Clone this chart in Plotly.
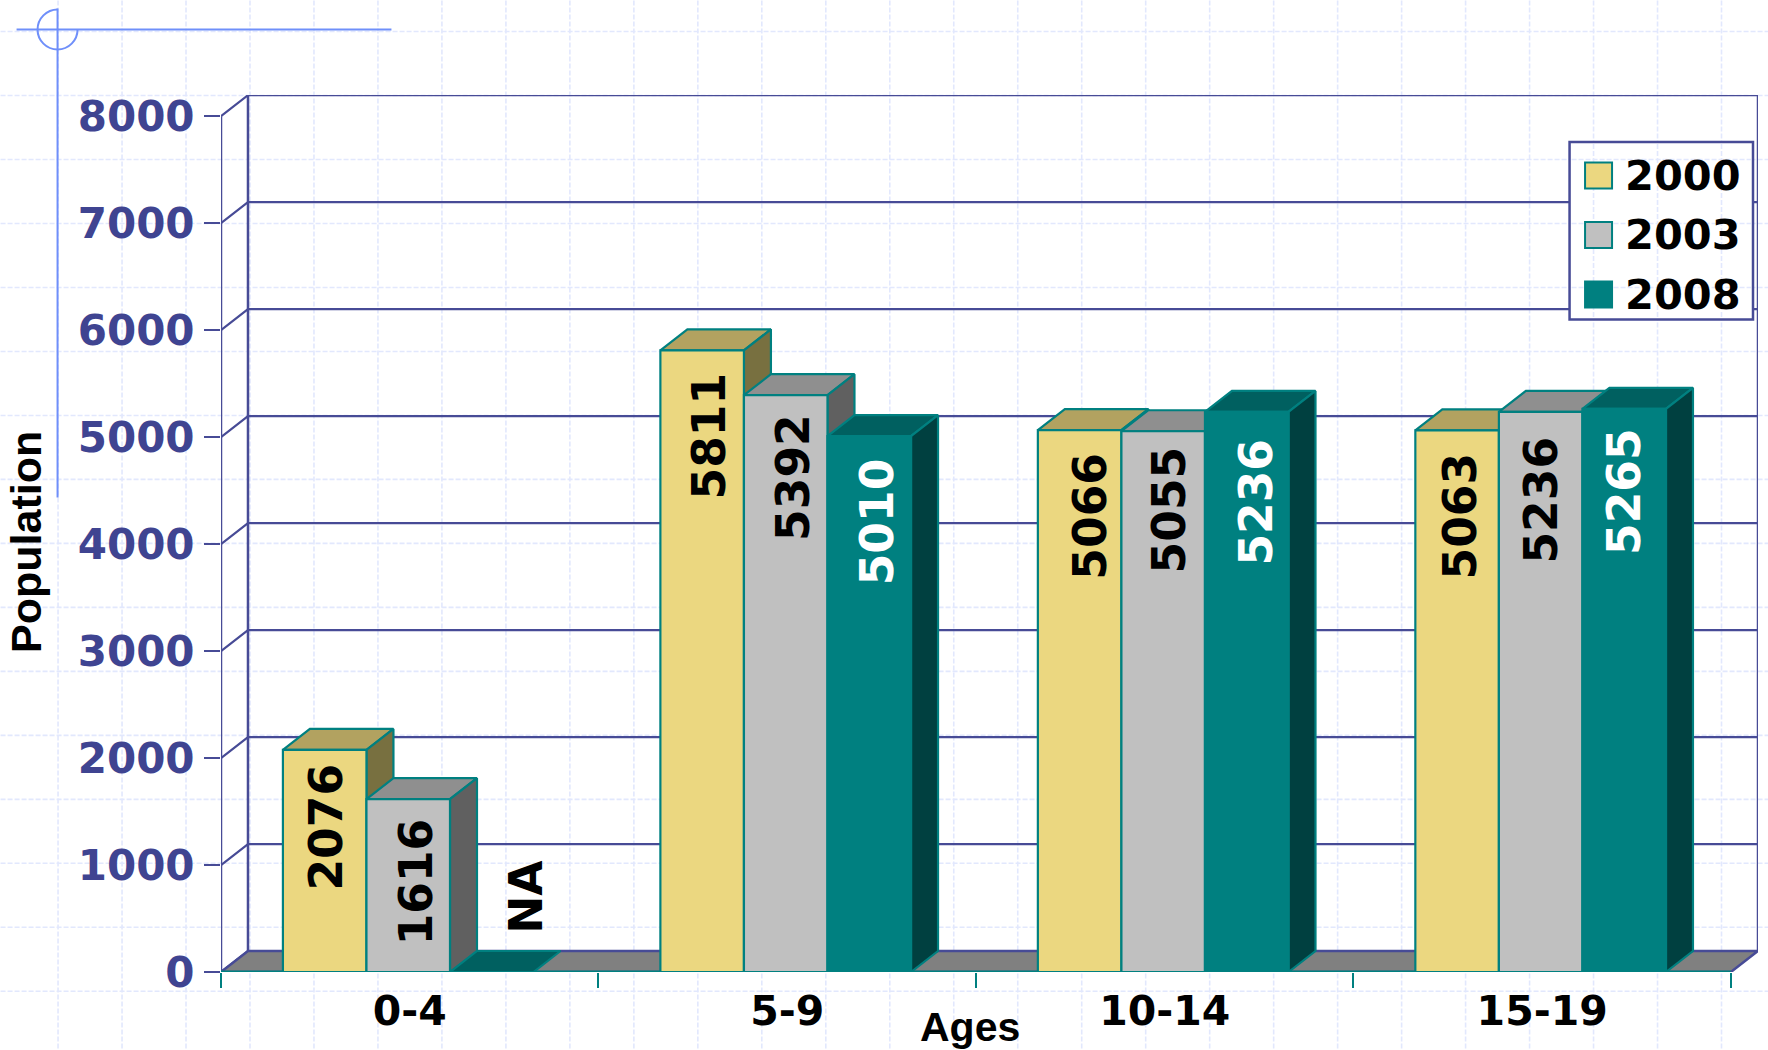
import plotly.graph_objects as go

categories = ["0-4", "5-9", "10-14", "15-19"]
series_names = ["2000", "2003", "2008"]
values_2000 = [2076, 5811, 5066, 5063]
values_2003 = [1616, 5392, 5055, 5236]
values_2008 = [None, 5010, 5236, 5265]
y_ticks = [0, 1000, 2000, 3000, 4000, 5000, 6000, 7000, 8000]
series_values = [values_2000, values_2003, values_2008]

W, H = 1768, 1050
L, R, T, B = 220.5, 1758.0, 94.5, 971.7
UNIT_X = 377.6
UNIT_Y = 0.107
DX = 27 / UNIT_X
DY = 21 / UNIT_Y
X_MAX = (R - L) / UNIT_X
Y_MAX = (B - T) / UNIT_Y
BARGAP = 0.336
BAR_W = (1 - BARGAP) / 3
GROUP_CENTER = 0.496

NAVY = "#474b96"
TEAL = "#008080"
FRONT = ["#ebd780", "#c0c0c0", "#008080"]
TOP = ["#b2a260", "#8f8f8f", "#006060"]
SIDE = ["#787040", "#606060", "#004040"]
FLOOR = "#808080"
PALE = "#e2e8fd"
BLUE = "#6f8ffa"
SANS = "DejaVu Sans"


def px(x):
    return (x - L) / (R - L)


def py(y):
    return (B - y) / (B - T)


fig = go.Figure()


def poly(xs, ys, fill):
    fig.add_trace(go.Scatter(x=xs, y=ys, mode="lines", fill="toself", fillcolor=fill,
                             line=dict(color=TEAL, width=2.2), hoverinfo="skip", showlegend=False))


def line(xs, ys, color=NAVY, width=2.5):
    fig.add_trace(go.Scatter(x=xs, y=ys, mode="lines", line=dict(color=color, width=width),
                             hoverinfo="skip", showlegend=False))


# walls and gridlines
for v in y_ticks:
    line([0, DX, X_MAX], [v, v + DY, v + DY], width=2.2)
line([0, 0], [0, 8000])
line([DX, DX], [DY, 8000 + DY])
line([X_MAX, X_MAX], [DY, 8000 + DY])
fig.add_trace(go.Scatter(x=[0, 4, 4 + DX, DX, 0], y=[0, 0, DY, DY, 0], mode="lines", fill="toself",
                         fillcolor=FLOOR, line=dict(color=NAVY, width=2.5), hoverinfo="skip", showlegend=False))
line([0, 4], [0, 0], color=TEAL, width=3)

# depth faces of each bar
for c in range(len(categories)):
    for s in range(len(series_names)):
        v = series_values[s][c] or 0
        x0 = c + GROUP_CENTER - 1.5 * BAR_W + s * BAR_W
        x1 = x0 + BAR_W
        poly([x0, x0 + DX, x1 + DX, x1, x0], [v, v + DY, v + DY, v, v], TOP[s])
        if v:
            poly([x1, x1 + DX, x1 + DX, x1, x1], [0, DY, v + DY, v, 0], SIDE[s])

# front faces
for s, name in enumerate(series_names):
    fig.add_trace(go.Bar(x=[c + GROUP_CENTER for c in range(len(categories))], y=series_values[s], name=name,
                         marker=dict(color=FRONT[s], line=dict(color=TEAL, width=2.2)),
                         xaxis="x2", yaxis="y2", offsetgroup=str(s), hoverinfo="x+y", showlegend=False))

shapes = []
# slide background grid
grid_x = [57.5 + 64 * i for i in range(-1, 28)]
grid_y = [31 + 64 * i for i in range(0, 17)]
gl = dict(color=PALE, width=1.6, dash="5px,2px")
for gx in grid_x:
    shapes.append(dict(type="line", xref="paper", yref="paper", x0=px(gx), x1=px(gx), y0=py(0), y1=py(H),
                       line=gl, layer="below"))
for gy in grid_y:
    shapes.append(dict(type="line", xref="paper", yref="paper", x0=px(0), x1=px(W), y0=py(gy), y1=py(gy),
                       line=gl, layer="below"))

# slide corner mark
cx, cy, r = 57.0, 29.0, 20.0
k = 0.5523 * r
arc = (f"M {px(cx)} {py(cy - r)} "
       f"C {px(cx - k)} {py(cy - r)} {px(cx - r)} {py(cy - k)} {px(cx - r)} {py(cy)} "
       f"C {px(cx - r)} {py(cy + k)} {px(cx - k)} {py(cy + r)} {px(cx)} {py(cy + r)} "
       f"C {px(cx + k)} {py(cy + r)} {px(cx + r)} {py(cy + k)} {px(cx + r)} {py(cy)}")
mark = dict(color=BLUE, width=2)
shapes.append(dict(type="path", xref="paper", yref="paper", path=arc, line=mark, layer="above"))
shapes.append(dict(type="line", xref="paper", yref="paper", x0=px(16), x1=px(391), y0=py(29), y1=py(29), line=mark, layer="above"))
shapes.append(dict(type="line", xref="paper", yref="paper", x0=px(57), x1=px(57), y0=py(8), y1=py(497), line=mark, layer="above"))

# legend box
LG_L, LG_R, LG_T, LG_B = 1569.5, 1753.0, 141.5, 319.0
shapes.append(dict(type="rect", xref="paper", yref="paper", x0=px(LG_L), x1=px(LG_R), y0=py(LG_T), y1=py(LG_B),
                   fillcolor="white", line=dict(color=NAVY, width=2.5), layer="above"))
for gx in grid_x:
    if LG_L < gx < LG_R:
        shapes.append(dict(type="line", xref="paper", yref="paper", x0=px(gx), x1=px(gx), y0=py(LG_T + 2), y1=py(LG_B - 2),
                           line=gl, layer="above"))
for gy in grid_y:
    if LG_T < gy < LG_B:
        shapes.append(dict(type="line", xref="paper", yref="paper", x0=px(LG_L + 2), x1=px(LG_R - 2), y0=py(gy), y1=py(gy),
                           line=gl, layer="above"))
legend_rows = [175, 234.5, 294]
annotations = []
for s, name in enumerate(series_names):
    yc = legend_rows[s]
    shapes.append(dict(type="rect", xref="paper", yref="paper", x0=px(1585), x1=px(1612), y0=py(yc - 13), y1=py(yc + 13),
                       fillcolor=FRONT[s], line=dict(color=TEAL, width=2), layer="above"))
    annotations.append(dict(xref="paper", yref="paper", x=px(1623), y=py(yc), text=f"<b>{name}</b>", showarrow=False,
                            xanchor="left", yanchor="middle", font=dict(family=SANS, size=41.5, color="black")))

# data labels, placed by hand in the original
label_px = [[(2, -77), (7, -86), (10, -86), (3, -86)],
            [(8, -83), (7, -82), (6, -79), (1, -88)],
            [(34, 75), (8, -86), (10, -90), (1, -83)]]
for s in range(3):
    for c in range(4):
        raw = series_values[s][c]
        txt = str(raw) if raw is not None else "NA"
        yval = raw if raw is not None else 0
        xs, ys = label_px[s][c]
        annotations.append(dict(x=c + GROUP_CENTER + (s - 1) * BAR_W, y=yval, xshift=xs, yshift=ys,
                                text=f"<b>{txt}</b>", showarrow=False, textangle=-90,
                                font=dict(family=SANS, size=45.5, color="white" if (s == 2 and raw is not None) else "black")))

annotations.append(dict(xref="paper", yref="paper", x=px(26), y=py(542), text="<b>Population</b>", showarrow=False,
                        textangle=-90, xanchor="center", yanchor="middle",
                        font=dict(family="Liberation Sans", size=43, color="black")))
annotations.append(dict(xref="paper", yref="paper", x=px(970), y=py(1027), text="<b>Ages</b>", showarrow=False,
                        xanchor="center", yanchor="middle",
                        font=dict(family="Liberation Sans", size=41, color="black")))

fig.update_layout(
    width=W, height=H, autosize=False,
    margin=dict(l=L, r=W - R, t=T, b=H - B, pad=0),
    paper_bgcolor="white", plot_bgcolor="rgba(0,0,0,0)",
    showlegend=False, barmode="group", bargap=BARGAP, bargroupgap=0,
    shapes=shapes, annotations=annotations,
    xaxis=dict(range=[0, X_MAX], showgrid=False, zeroline=False, showline=False,
               tickmode="array", tickvals=[c + 0.5 for c in range(4)], ticktext=categories,
               ticks="", ticklabelstandoff=11,
               tickfont=dict(family=SANS, size=41, color="black", weight="bold"),
               minor=dict(tickmode="array", tickvals=[0, 1, 2, 3, 4], ticks="outside", ticklen=15, tickwidth=2,
                          tickcolor=TEAL, showgrid=False)),
    yaxis=dict(range=[0, Y_MAX], showgrid=False, zeroline=False, showline=False,
               tickmode="array", tickvals=y_ticks, ticks="outside", ticklen=16, tickwidth=2, tickcolor=NAVY,
               tickfont=dict(family=SANS, size=42, color="#3f4491", weight="bold"), ticklabelstandoff=1),
    xaxis2=dict(range=[0, X_MAX], overlaying="x", visible=False),
    yaxis2=dict(range=[0, Y_MAX], overlaying="y", visible=False),
)

fig.write_html("out.html", config={"displayModeBar": False},
               post_script="document.body.style.margin='0';document.documentElement.style.overflow='hidden';")
